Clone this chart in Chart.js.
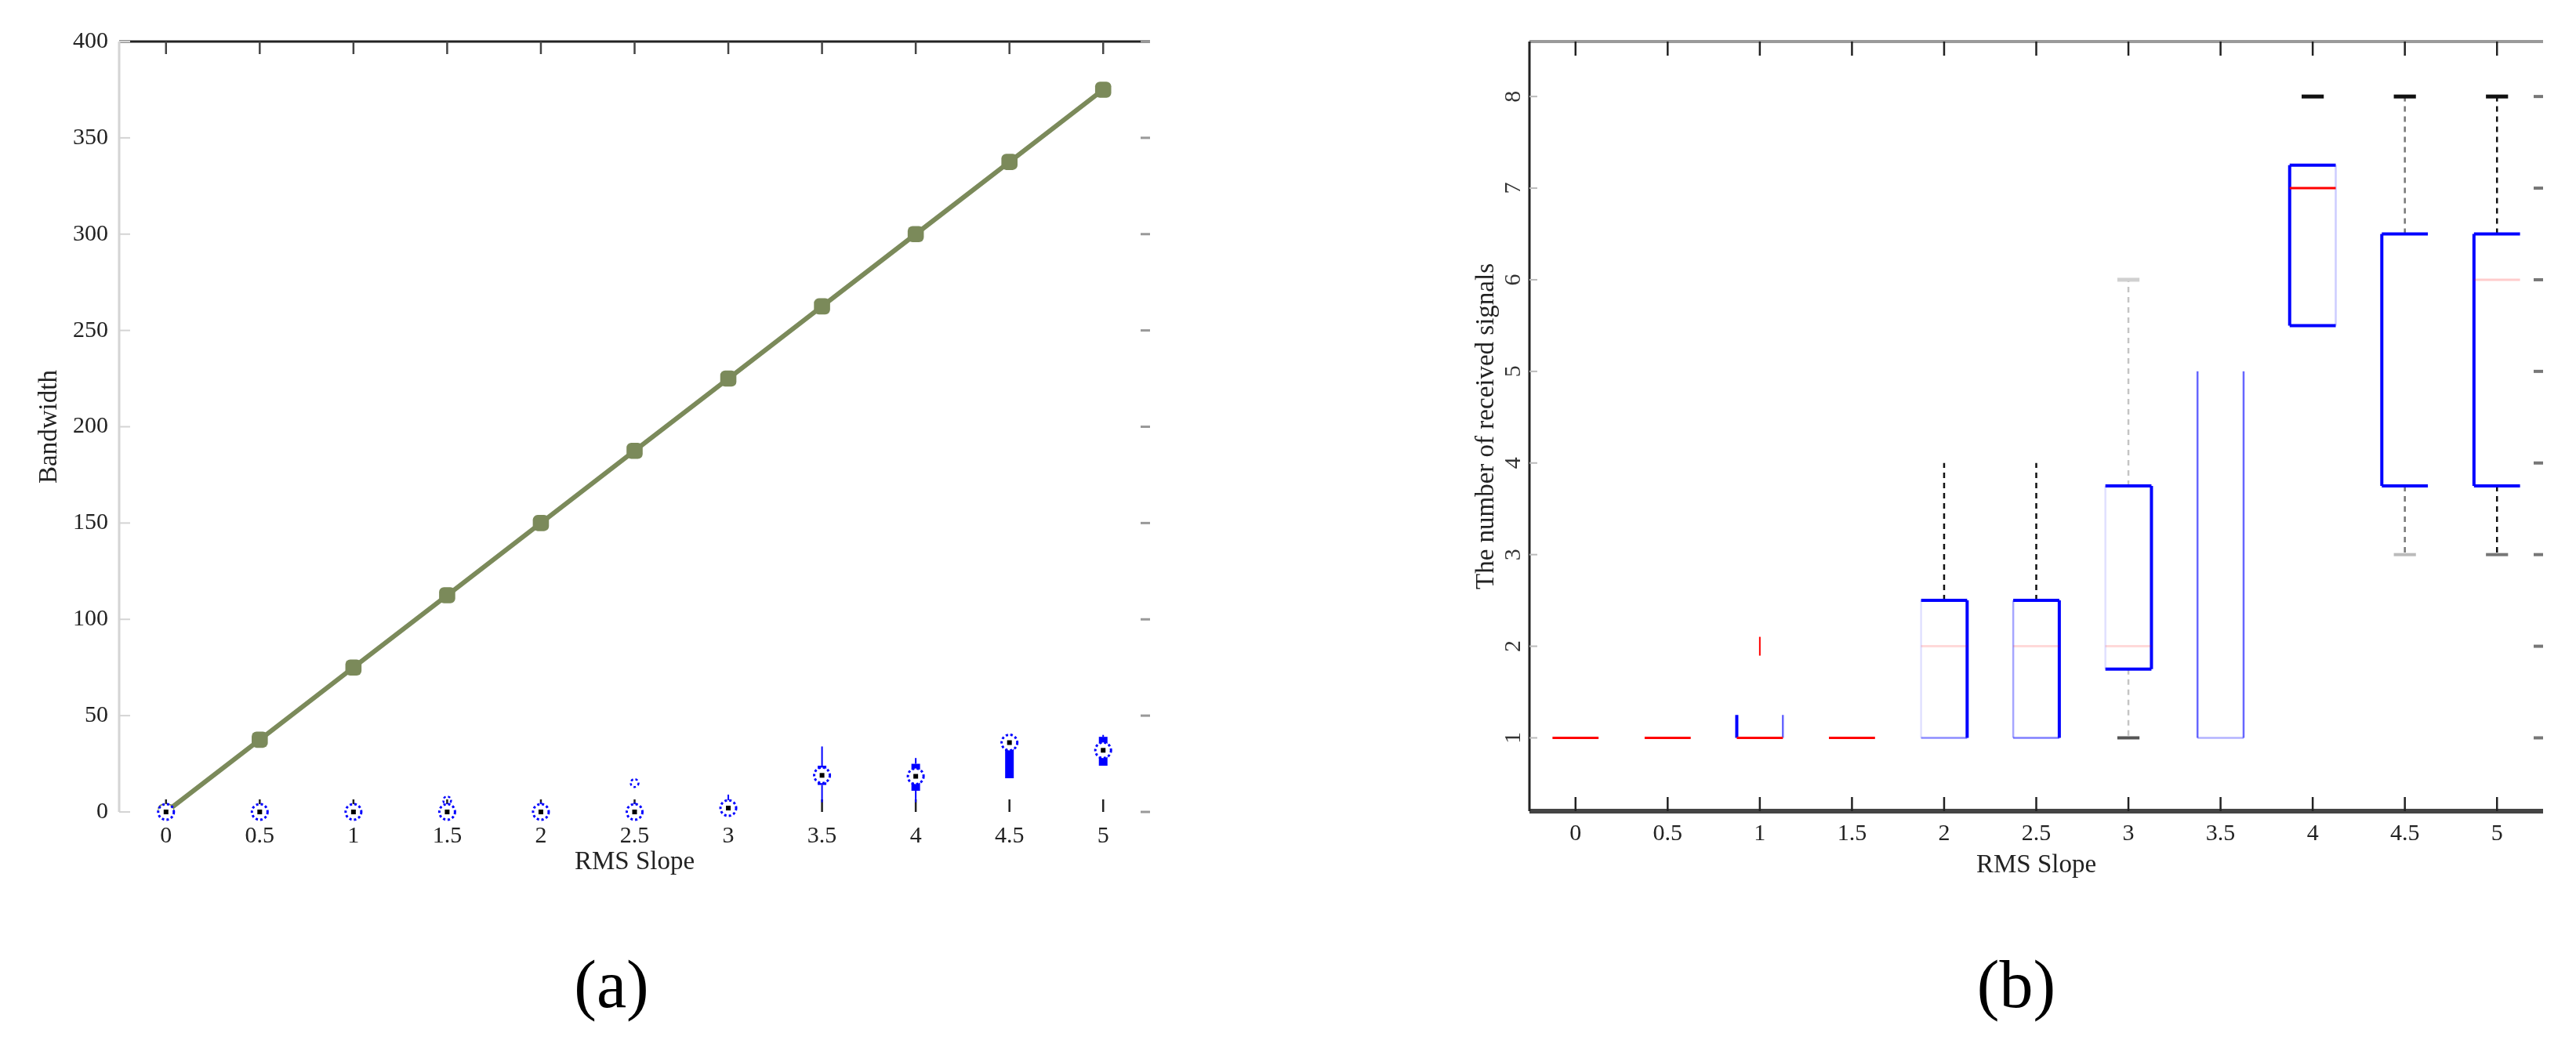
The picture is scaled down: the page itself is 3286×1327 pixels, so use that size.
<!DOCTYPE html>
<html lang="en">
<head>
<meta charset="UTF-8">
<title>Bandwidth and received signals vs RMS slope</title>
<script src="https://cdn.jsdelivr.net/npm/chart.js"></script>
<style>
  body { margin: 0; background: #fff; width: 3286px; height: 1327px; position: relative; overflow: hidden; }
  canvas { position: absolute; top: 0; }
  #chartA { left: 0; }
  #chartB { left: 1750px; }
  .tag { position: absolute; top: 1213px; font-family: "Liberation Serif", serif; font-size: 86px; line-height: 1; transform: translateX(-50%); color: #000; }
</style>
</head>
<body>
<canvas id="chartA" width="1500" height="1160"></canvas>
<canvas id="chartB" width="1536" height="1160"></canvas>
<div class="tag" style="left:780px">(a)</div>
<div class="tag" style="left:2572px">(b)</div>

<script>
// ---- data ----
const rmsSlope = [0, 0.5, 1, 1.5, 2, 2.5, 3, 3.5, 4, 4.5, 5];
const slopeLabels = ['0', '0.5', '1', '1.5', '2', '2.5', '3', '3.5', '4', '4.5', '5'];

// (a) bandwidth line
const bandwidthTicks = [0, 50, 100, 150, 200, 250, 300, 350, 400];
const bandwidth = [0, 37.5, 75, 112.5, 150, 187.5, 225, 262.5, 300, 337.5, 375];

// (a) compact box plot near the x axis
const bwMedian    = [0, 0, 0, 0, 0, 0, 2, 19, 18.5, 36, 32];
const bwQ1        = [0, 0, 0, 0, 0, 0, 2, 14, 11, 17.5, 24];
const bwQ3        = [0, 0, 0, 0, 0, 0, 2, 24, 25, 36, 39];
const bwWhiskLow  = [0, 0, 0, 0, 0, 0, 0, 5, 5, 17.5, 24];
const bwWhiskHigh = [0, 0, 0, 0, 5, 5, 9, 34, 28, 40, 40];
const bwOutliers  = [[], [], [], [6], [], [15], [], [], [], [], []];

// (b) number of received signals
const signalTicks = [1, 2, 3, 4, 5, 6, 7, 8];
const sigMedian    = [1, 1, 1, 1, 2, 2, 2, 1, 7, 6.5, 6];
const sigQ1        = [1, 1, 1, 1, 1, 1, 1.75, 1, 5.5, 3.75, 3.75];
const sigQ3        = [1, 1, 1.25, 1, 2.5, 2.5, 3.75, 5, 7.25, 6.5, 6.5];
const sigWhiskLow  = [1, 1, 1, 1, 1, 1, 1, 1, 5.5, 3, 3];
const sigWhiskHigh = [1, 1, 1.25, 1, 4, 4, 6, 5, 8, 8, 8];
const sigOutliers  = [[], [], [2], [], [], [], [], [], [], [], []];

// how strongly each box of (b) is inked: edges = [left, right, top, bottom]
const boxLook = [
  { edges: [0, 0, 0, 0], med: 1 },
  { edges: [0, 0, 0, 0], med: 1 },
  { edges: [1, 0.6, 0, 0], med: 1 },
  { edges: [0, 0, 0, 0], med: 1 },
  { edges: [0.12, 1, 1, 0.45], med: 0.15, whisk: '#111' },
  { edges: [0.35, 1, 1, 0.5], med: 0.15, whisk: '#111' },
  { edges: [0.12, 1, 1, 1], med: 0.15, whisk: '#c4c4c4', capHi: '#d0d0d0', capLo: '#555' },
  { edges: [0.6, 0.6, 0, 0.3], med: 0 },
  { edges: [1, 0.2, 1, 1], med: 1, capHi: '#111' },
  { edges: [1, 0, 1, 1], med: 0, whisk: '#777', capHi: '#111', capLo: '#bbb' },
  { edges: [1, 0, 1, 1], med: 0.2, whisk: '#111', capHi: '#111', capLo: '#777' }
];

Chart.defaults.font.family = '"Liberation Serif", serif';
Chart.defaults.color = '#222';

function seg(ctx, x1, y1, x2, y2, color, width, dash) {
  ctx.save();
  ctx.strokeStyle = color;
  ctx.lineWidth = width;
  ctx.setLineDash(dash || []);
  ctx.beginPath();
  ctx.moveTo(x1, y1);
  ctx.lineTo(x2, y2);
  ctx.stroke();
  ctx.restore();
}

// axis box lines and inward ticks, each spec is [color, width, length]
function makeFrame(spec) {
  return {
    id: 'frame',
    beforeDatasetsDraw(chart) {
      const { ctx, chartArea: a, scales: { x, y } } = chart;
      if (spec.top) seg(ctx, a.left, a.top, a.right, a.top, spec.top[0], spec.top[1]);
      if (spec.bottom) seg(ctx, a.left, a.bottom, a.right, a.bottom, spec.bottom[0], spec.bottom[1]);
      if (spec.left) seg(ctx, a.left, a.top, a.left, a.bottom, spec.left[0], spec.left[1]);
      x.ticks.forEach(t => {
        const px = x.getPixelForValue(t.value);
        if (spec.xTop) seg(ctx, px, a.top, px, a.top + spec.xTop[2], spec.xTop[0], spec.xTop[1]);
        if (spec.xBottom) seg(ctx, px, a.bottom, px, a.bottom - spec.xBottom[2], spec.xBottom[0], spec.xBottom[1]);
      });
      y.ticks.forEach(t => {
        const py = y.getPixelForValue(t.value);
        if (spec.yLeft) seg(ctx, a.left, py, a.left + spec.yLeft[2], py, spec.yLeft[0], spec.yLeft[1]);
        if (spec.yRight) seg(ctx, a.right, py, a.right - spec.yRight[2], py, spec.yRight[0], spec.yRight[1]);
      });
    }
  };
}

// sideways y tick labels of panel (b)
const sidewaysY = {
  id: 'sidewaysY',
  afterDraw(chart) {
    const { ctx, chartArea: a, scales: { y } } = chart;
    ctx.save();
    ctx.fillStyle = '#333';
    ctx.font = '30px "Liberation Serif", serif';
    ctx.textAlign = 'center';
    ctx.textBaseline = 'middle';
    y.ticks.forEach(t => {
      ctx.save();
      ctx.translate(a.left - 20, y.getPixelForValue(t.value));
      ctx.rotate(-Math.PI / 2);
      ctx.fillText(String(t.value), 0, 0);
      ctx.restore();
    });
    ctx.restore();
  }
};

function ring(ctx, cx, cy, r, fill, stroke, width) {
  ctx.save();
  ctx.beginPath();
  ctx.arc(cx, cy, r, 0, Math.PI * 2);
  if (fill) { ctx.fillStyle = fill; ctx.fill(); }
  ctx.setLineDash([3, 3]);
  ctx.strokeStyle = stroke;
  ctx.lineWidth = width;
  ctx.stroke();
  ctx.restore();
}

// matlab "compact" boxplot for panel (a)
const compactBox = {
  id: 'compactBox',
  afterDatasetsDraw(chart) {
    const { ctx, scales: { x, y } } = chart;
    rmsSlope.forEach((s, i) => {
      const px = x.getPixelForValue(s);
      if (bwWhiskHigh[i] > bwQ3[i]) seg(ctx, px, y.getPixelForValue(bwQ3[i]), px, y.getPixelForValue(bwWhiskHigh[i]), '#0000ff', 2);
      if (bwWhiskLow[i] < bwQ1[i]) seg(ctx, px, y.getPixelForValue(bwQ1[i]), px, y.getPixelForValue(bwWhiskLow[i]), '#0000ff', 2);
      if (bwQ3[i] > bwQ1[i]) seg(ctx, px, y.getPixelForValue(bwQ1[i]), px, y.getPixelForValue(bwQ3[i]), '#0000ff', 11);
      bwOutliers[i].forEach(v => ring(ctx, px, y.getPixelForValue(v), 5, null, '#0000ff', 2.5));
      const my = y.getPixelForValue(bwMedian[i]);
      ring(ctx, px, my, 10, '#fff', '#0000ff', 3);
      ctx.save();
      ctx.fillStyle = '#000';
      ctx.fillRect(px - 3, my - 3, 6, 6);
      ctx.restore();
    });
  }
};

// classic boxplot for panel (b)
const classicBox = {
  id: 'classicBox',
  afterDatasetsDraw(chart) {
    const { ctx, scales: { x, y } } = chart;
    const half = 0.125, capHalf = 0.06;
    rmsSlope.forEach((s, i) => {
      const L = boxLook[i];
      const cx = x.getPixelForValue(s);
      const xl = x.getPixelForValue(s - half), xr = x.getPixelForValue(s + half);
      const cl = x.getPixelForValue(s - capHalf), cr = x.getPixelForValue(s + capHalf);
      const y1 = y.getPixelForValue(sigQ1[i]), y3 = y.getPixelForValue(sigQ3[i]);
      const yHi = y.getPixelForValue(sigWhiskHigh[i]), yLo = y.getPixelForValue(sigWhiskLow[i]);

      if (L.whisk) {
        if (sigWhiskHigh[i] > sigQ3[i]) seg(ctx, cx, y3, cx, yHi, L.whisk, 2.5, [7, 6]);
        if (sigWhiskLow[i] < sigQ1[i]) seg(ctx, cx, y1, cx, yLo, L.whisk, 2.5, [7, 6]);
      }
      if (L.capHi) seg(ctx, cl, yHi, cr, yHi, L.capHi, 5);
      if (L.capLo) seg(ctx, cl, yLo, cr, yLo, L.capLo, 4);

      const e = L.edges;
      const w = a => (a > 0.8 ? 4 : 2.5);
      if (e[0]) seg(ctx, xl, y1, xl, y3, `rgba(0,0,255,${e[0]})`, w(e[0]));
      if (e[1]) seg(ctx, xr, y1, xr, y3, `rgba(0,0,255,${e[1]})`, w(e[1]));
      if (e[2]) seg(ctx, xl, y3, xr, y3, `rgba(0,0,255,${e[2]})`, w(e[2]));
      if (e[3]) seg(ctx, xl, y1, xr, y1, `rgba(0,0,255,${e[3]})`, w(e[3]));

      if (L.med) {
        const my = y.getPixelForValue(sigMedian[i]);
        seg(ctx, xl, my, xr, my, `rgba(255,0,0,${L.med})`, 3);
      }
      sigOutliers[i].forEach(v => {
        const oy = y.getPixelForValue(v);
        seg(ctx, cx, oy - 12, cx, oy + 12, '#ff0000', 2);
      });
    });
  }
};

const slopeTick = v => slopeLabels[rmsSlope.indexOf(v)];

// ---- panel (a) ----
new Chart(document.getElementById('chartA'), {
  type: 'line',
  data: {
    datasets: [{
      data: rmsSlope.map((s, i) => ({ x: s, y: bandwidth[i] })),
      borderColor: '#7b8a5a',
      backgroundColor: '#7b8a5a',
      borderWidth: 6,
      pointStyle: 'rectRounded',
      pointRadius: 12,
      pointBackgroundColor: '#7b8a5a',
      pointBorderWidth: 0,
      tension: 0
    }]
  },
  options: {
    responsive: false,
    animation: false,
    layout: { padding: { top: 53, right: 33, bottom: 34, left: 0 } },
    plugins: { legend: { display: false }, tooltip: { enabled: false } },
    scales: {
      x: {
        type: 'linear', min: -0.25, max: 5.25,
        afterBuildTicks: s => { s.ticks = rmsSlope.map(v => ({ value: v })); },
        afterFit: s => { s.height = 90; },
        grid: { display: false, drawTicks: false },
        border: { display: false },
        ticks: { callback: slopeTick, font: { size: 30 }, padding: 13, maxRotation: 0 },
        title: { display: true, text: 'RMS Slope', font: { size: 33 }, padding: { top: 0, bottom: 6 } }
      },
      y: {
        min: 0, max: 400,
        afterBuildTicks: s => { s.ticks = bandwidthTicks.map(v => ({ value: v })); },
        afterFit: s => { s.width = 152; },
        grid: { display: false, drawTicks: false },
        border: { display: false },
        ticks: { font: { size: 30 }, padding: 14 },
        title: { display: true, text: 'Bandwidth', font: { size: 33 }, padding: { top: 44, bottom: 0 } }
      }
    }
  },
  plugins: [makeFrame({
    top: ['#222', 3],
    left: ['#d4d4d4', 3],
    xTop: ['#444', 2.5, 16],
    xBottom: ['#222', 2.5, 16],
    yLeft: ['#d4d4d4', 2, 14],
    yRight: ['#999', 3, 12]
  }), compactBox]
});

// ---- panel (b) ----
new Chart(document.getElementById('chartB'), {
  type: 'scatter',
  data: { datasets: [] },
  options: {
    responsive: false,
    animation: false,
    layout: { padding: { top: 53, right: 42, bottom: 34, left: 0 } },
    plugins: { legend: { display: false }, tooltip: { enabled: false } },
    scales: {
      x: {
        type: 'linear', min: -0.25, max: 5.25,
        afterBuildTicks: s => { s.ticks = rmsSlope.map(v => ({ value: v })); },
        afterFit: s => { s.height = 91; },
        grid: { display: false, drawTicks: false },
        border: { display: false },
        ticks: { callback: slopeTick, font: { size: 30 }, padding: 11, maxRotation: 0 },
        title: { display: true, text: 'RMS Slope', font: { size: 33 }, padding: { top: 0, bottom: 2 } }
      },
      y: {
        min: 0.2, max: 8.6,
        afterBuildTicks: s => { s.ticks = signalTicks.map(v => ({ value: v })); },
        afterFit: s => { s.width = 201; },
        grid: { display: false, drawTicks: false },
        border: { display: false },
        ticks: { display: false },
        title: { display: true, text: 'The number of received signals', font: { size: 33 }, padding: { top: 127, bottom: 0 } }
      }
    }
  },
  plugins: [makeFrame({
    top: ['#9a9a9a', 4],
    bottom: ['#444', 6],
    left: ['#222', 3],
    xTop: ['#222', 2.5, 18],
    xBottom: ['#222', 2.5, 18],
    yLeft: ['#bbb', 2, 10],
    yRight: ['#777', 4, 12]
  }), classicBox, sidewaysY]
});
</script>
</body>
</html>
